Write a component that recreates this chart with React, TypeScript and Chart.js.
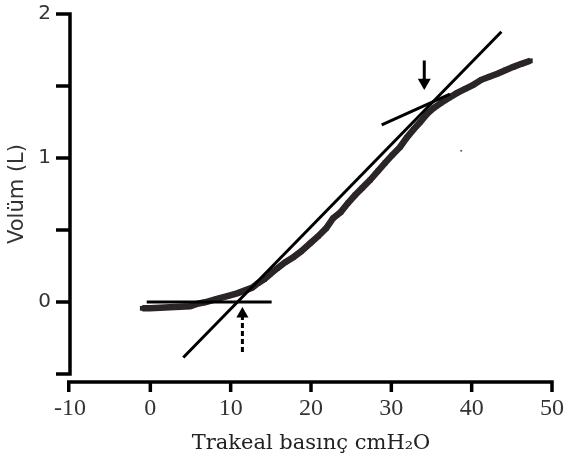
import { useEffect, useRef } from "react";
import { Chart, registerables } from "chart.js";

Chart.register(...registerables);

// Pressure–volume curve (x: tracheal pressure cmH2O, y: volume L)
const pressure = [-1.0, -0.05, 1.2, 2.45, 3.7, 4.95, 5.8, 6.8, 8.3, 9.7, 10.8, 11.8, 12.7, 13.4, 14.2, 14.9, 15.8, 16.8, 17.8, 18.8, 19.9, 20.9, 21.9, 22.75, 23.7, 24.6, 25.5, 26.35, 27.35, 28.35, 29.2, 30.1, 31.1, 31.9, 32.8, 33.6, 34.45, 35.3, 36.2, 37.2, 38.2, 39.2, 40.2, 41.2, 42.2, 43.2, 44.2, 45.2, 46.2, 47.3];
const volume = [-0.044, -0.044, -0.04, -0.037, -0.033, -0.03, -0.013, -0.002, 0.022, 0.043, 0.06, 0.081, 0.1, 0.13, 0.158, 0.193, 0.234, 0.276, 0.311, 0.353, 0.408, 0.457, 0.513, 0.582, 0.624, 0.687, 0.743, 0.791, 0.847, 0.91, 0.965, 1.02, 1.077, 1.14, 1.2, 1.25, 1.306, 1.348, 1.383, 1.418, 1.452, 1.48, 1.508, 1.543, 1.564, 1.585, 1.61, 1.633, 1.654, 1.675];

const outlierX = [38.7];
const outlierY = [1.05];

// Construction lines
const tangentX = [4.1, 43.7];
const tangentY = [-0.385, 1.877];
const baselineX = [-0.45, 15.1];
const baselineY = [0, 0];
const upperX = [28.8, 37.3];
const upperY = [1.23, 1.443];

// Arrows (lower inflection point: dashed, upward; upper: solid, downward)
const lowerShaftX = [11.46, 11.46];
const lowerShaftY = [-0.348, -0.1];
const lowerHeadX = [11.46];
const lowerHeadY = [-0.0835];
const upperShaftX = [34.1, 34.1];
const upperShaftY = [1.677, 1.54];
const upperHeadX = [34.1];
const upperHeadY = [1.525];

// Axes
const xTickValues = [-10, 0, 10, 20, 30, 40, 50];
const yTickValues = [-0.5, 0, 0.5, 1, 1.5, 2];
const yLabeledTicks = [0, 1, 2];

const pts = (xs: number[], ys: number[]) => xs.map((x, i) => ({ x, y: ys[i] }));

const axesPlugin = {
  id: "handAxes",
  afterDatasetsDraw(chart: any) {
    const { ctx, chartArea } = chart;
    const xs = chart.scales.x;
    const ys = chart.scales.y;
    ctx.save();
    ctx.strokeStyle = "#000";
    ctx.lineWidth = 3.5;
    ctx.lineCap = "butt";
    const left = chartArea.left;
    const yTop = ys.getPixelForValue(yTickValues[yTickValues.length - 1]);
    const yBot = ys.getPixelForValue(yTickValues[0]);
    ctx.beginPath();
    ctx.moveTo(left, yTop - 1.75);
    ctx.lineTo(left, yBot + 1.75);
    for (const v of yTickValues) {
      const py = ys.getPixelForValue(v);
      ctx.moveTo(left - 14, py);
      ctx.lineTo(left + 1.75, py);
    }
    ctx.stroke();
    const ay = chartArea.bottom + 8;
    const xl = xs.getPixelForValue(xTickValues[0]);
    const xr = xs.getPixelForValue(xTickValues[xTickValues.length - 1]);
    ctx.beginPath();
    ctx.moveTo(xl - 3, ay);
    ctx.lineTo(xr + 1.75, ay);
    for (const v of xTickValues) {
      const px = xs.getPixelForValue(v);
      const tx = v === xTickValues[0] ? px - 1.25 : px;
      ctx.moveTo(tx, ay - 1.75);
      ctx.lineTo(tx, ay + 10);
    }
    ctx.stroke();
    ctx.restore();
  },
};

const lineDs = (data: any, extra: any = {}) => ({
  data,
  showLine: true,
  borderColor: "#000",
  borderWidth: 3,
  pointRadius: 0,
  tension: 0,
  order: 1,
  ...extra,
});

export default function App() {
  const ref = useRef<HTMLCanvasElement | null>(null);
  useEffect(() => {
    if (!ref.current) return;
    const chart = new Chart(ref.current, {
      type: "scatter",
      data: {
        datasets: [
          lineDs(pts(tangentX, tangentY)),
          lineDs(pts(baselineX, baselineY)),
          lineDs(pts(upperX, upperY)),
          lineDs(pts(lowerShaftX, lowerShaftY), { borderDash: [5, 3] }),
          lineDs(pts(upperShaftX, upperShaftY)),
          {
            data: pts(lowerHeadX, lowerHeadY),
            pointStyle: "triangle",
            pointRadius: 7,
            pointBackgroundColor: "#000",
            pointBorderWidth: 0,
            rotation: 0,
            order: 1,
          },
          {
            data: pts(upperHeadX, upperHeadY),
            pointStyle: "triangle",
            pointRadius: 7.5,
            pointBackgroundColor: "#000",
            pointBorderWidth: 0,
            rotation: 180,
            order: 1,
          },
          {
            data: pts(outlierX, outlierY),
            pointStyle: "rect",
            pointRadius: 1.2,
            pointBackgroundColor: "#555",
            pointBorderWidth: 0,
            order: 5,
          },
          {
            data: pts(pressure, volume),
            showLine: true,
            borderColor: "#2b2527",
            borderWidth: 6.5,
            pointStyle: "rect",
            pointRadius: 3.4,
            pointBackgroundColor: "#2b2527",
            pointBorderWidth: 0,
            tension: 0,
            order: 10,
          },
        ],
      },
      options: {
        responsive: false,
        animation: false,
        devicePixelRatio: 1,
        layout: { padding: { left: 5, top: 14, right: 14, bottom: 8 } },
        plugins: { legend: { display: false }, tooltip: { enabled: false } },
        scales: {
          x: {
            type: "linear",
            min: -10,
            max: 50,
            grid: { display: false, drawTicks: false },
            border: { display: false },
            afterBuildTicks: (s: any) => {
              s.ticks = xTickValues.map((v) => ({ value: v }));
            },
            afterFit: (s: any) => {
              s.height = 82;
              s.paddingLeft = 0;
              s.paddingRight = 0;
            },
            ticks: {
              autoSkip: false,
              maxRotation: 0,
              padding: 20,
              color: "#333",
              font: { family: "'Liberation Serif', serif", size: 24 },
              callback: (v: any) => String(v),
            },
            title: {
              display: true,
              text: "Trakeal basınç cmH₂O",
              color: "#222",
              padding: 0,
              font: { family: "'DejaVu Serif', serif", size: 21 },
            },
          },
          y: {
            type: "linear",
            min: -0.5,
            max: 2,
            grid: { display: false, drawTicks: false },
            border: { display: false },
            afterBuildTicks: (s: any) => {
              s.ticks = yTickValues.map((v) => ({ value: v }));
            },
            afterFit: (s: any) => {
              s.width = 65;
              s.paddingTop = 0;
              s.paddingBottom = 0;
            },
            ticks: {
              autoSkip: false,
              padding: 19,
              color: "#333",
              font: { family: "'DejaVu Sans', sans-serif", size: 20 },
              callback: (v: any) => (yLabeledTicks.includes(Number(v)) ? String(v) : ""),
            },
            title: {
              display: true,
              text: "Volüm (L)",
              color: "#333",
              padding: 0,
              font: { family: "'DejaVu Sans', sans-serif", size: 21 },
            },
          },
        },
      },
      plugins: [axesPlugin],
    });
    return () => chart.destroy();
  }, []);
  return (
    <div style={{ position: "absolute", left: 0, top: 0, width: 566, height: 464, background: "#fff" }}>
      <canvas ref={ref} width={566} height={464} />
    </div>
  );
}
